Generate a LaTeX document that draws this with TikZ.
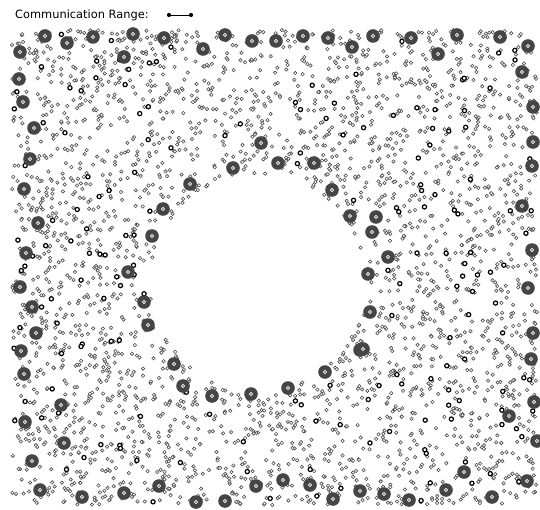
\documentclass[tikz,border=0pt]{standalone}
\usepackage{fontspec}
\setmainfont{DejaVu Sans}
\begin{document}
\begin{tikzpicture}[x=1pt,y=-1pt,font=\fontsize{11.4}{13}\selectfont,
	sensor/.style={draw=black!70,fill=white,line width=0.6pt},
	beacon/.style={draw=black,fill=white,line width=1.2pt},
	border/.style={fill=black!73},
	rangeend/.style={circle,fill=black,inner sep=0pt,minimum size=4.2pt}]
	\useasboundingbox[fill=white] (0,0) rectangle (540,510);
	\node[anchor=west,inner sep=0pt] (legend) at (15,15) {Communication Range:};
	\node[rangeend] (ra) at (169,15) {};
	\node[rangeend] (rb) at (191,15) {};
	\draw[line width=0.8pt] (ra) -- (rb);
	\pgfmathsetseed{4242}
	\foreach \i in {1,...,3500}{
		\pgfmathsetmacro\px{12+525*rnd}
		\pgfmathsetmacro\py{30+475*rnd}
		\pgfmathparse{(((\px-258)/10)^2+((\py-282)/10)^2)>116.6 ? 1 : 0}
		\ifdim\pgfmathresult pt>0.5pt \draw[sensor] (\px,\py) circle[radius=1.7]; \fi
	}
	\foreach \i in {1,...,210}{
		\pgfmathsetmacro\px{14+521*rnd}
		\pgfmathsetmacro\py{32+471*rnd}
		\pgfmathparse{(((\px-258)/10)^2+((\py-282)/10)^2)>118 ? 1 : 0}
		\ifdim\pgfmathresult pt>0.5pt \draw[beacon] (\px,\py) circle[radius=2.1]; \fi
	}
	\foreach \bx/\by in {45/36,67/43,93/37,133/34,164/38,20/52,124/57,19/79,23/102,34/128,
		30/159,24/189,38/223,163/209,152/236,26/253,225/35,203/49,252/41,276/41,303/36,
		328/38,352/47,261/143,233/168,278/163,314/163,190/184,332/190,350/216,
		373/36,411/38,457/35,500/37,528/46,438/54,522/72,533/107,533/142,532/166,
		522/206,376/217,372/232,388/257,532/250,20/287,128/272,32/307,144/302,36/333,
		148/325,21/351,174/364,24/374,61/405,25/422,64/443,32/461,40/490,82/497,
		124/493,159/486,183/386,212/396,251/394,288/388,325/372,360/350,196/502,
		225/501,256/486,283/480,310/485,333/499,360/491,368/274,528/288,370/312,
		533/333,363/349,531/359,534/402,509/416,537/441,464/472,527/481,384/494,
		409/500,446/490,492/497}{
		\fill[border] (\bx,\by) circle[radius=6.8];
		\draw[white,line width=0.6pt] (\bx,\by) circle[radius=1.6];
	}
\end{tikzpicture}
\end{document}
